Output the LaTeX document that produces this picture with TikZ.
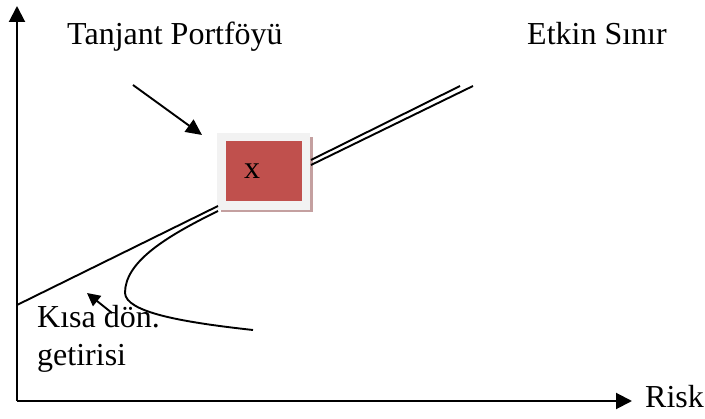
\documentclass[tikz,border=0pt]{standalone}
\usepackage{fontspec}
\setmainfont{Liberation Serif}
\usetikzlibrary{arrows.meta}
\definecolor{boxred}{RGB}{192,80,77}
\definecolor{boxgray}{RGB}{242,242,242}
\definecolor{boxshadow}{RGB}{196,160,160}
\tikzset{
  lbl/.style={anchor=base west,inner sep=0pt,font=\fontsize{32}{38}\selectfont},
  axis/.style={line width=2pt,-{Triangle[length=16pt,width=16pt]}},
  curve/.style={line width=1.9pt},
  pointer/.style={line width=1.9pt,-{Triangle[length=16pt,width=15pt]}},
}
\begin{document}
\begin{tikzpicture}[x=1pt,y=-1pt]
\useasboundingbox (0,0) rectangle (705,419);
% axes
\coordinate (O) at (17,401);
\coordinate (ytip) at (17,6);
\coordinate (xtip) at (632,401);
\draw[axis] (O) -- (ytip);
\draw[axis] (O) -- (xtip);
\node[lbl] (risk) at (645,408) {Risk};
% tangent portfolio box
\fill[boxshadow] (221,137) rectangle (312.5,212.5);
\fill[boxgray] (217,133) rectangle (310,210);
\fill[boxred] (226,141) rectangle (302,201);
\node[inner sep=0pt,font=\fontsize{32}{38}\selectfont] (tp) at (252,171) {x};
% lines
\coordinate (tA) at (17,305);
\coordinate (tB) at (460,86);
\coordinate (fA) at (253,330);
\coordinate (fV) at (125,293);
\coordinate (fT) at (218,211);
\coordinate (fM) at (311,165);
\coordinate (fB) at (473,86);
\draw[curve] (tA) -- (218,206);
\draw[curve] (311,160) -- (tB);
\draw[curve] (fA) .. controls (180,322) and (126,312) .. (fV)
  .. controls (125,262) and (165,237) .. (fT);
\draw[curve] (fM) -- (fB);
% labels
\node[lbl] (tan) at (67,45) {Tanjant Portföyü};
\node[lbl] (etk) at (527,45) {Etkin Sınır};
\node[lbl] (kisa) at (37,328) {Kısa dön.};
\node[lbl] (get) at (37,366) {getirisi};
% pointers
\coordinate (p1s) at (133,85);
\coordinate (p1e) at (202,135);
\draw[pointer] (p1s) -- (p1e);
\coordinate (p2s) at (112,313);
\coordinate (p2e) at (87,293);
\draw[pointer,-{Triangle[length=13pt,width=13pt]}] (p2s) -- (p2e);
\end{tikzpicture}
\end{document}
